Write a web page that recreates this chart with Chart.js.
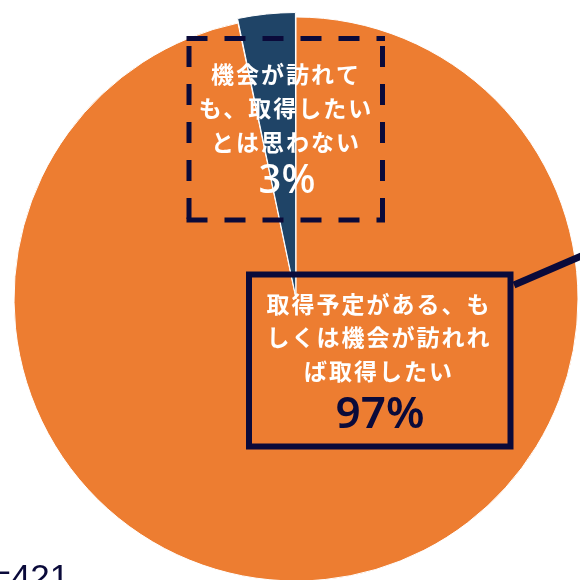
<!DOCTYPE html>
<html><head><meta charset="utf-8">
<script src="https://cdn.jsdelivr.net/npm/chart.js@4/dist/chart.umd.min.js"></script>
<style>
html,body{margin:0;padding:0;background:#fff;overflow:hidden;width:580px;height:580px}
#wrap{position:absolute;left:0;top:0;width:600px;height:600px}
</style></head>
<body>
<div id="wrap"><canvas id="c" width="600" height="600"></canvas></div>
<script>
const categories = ['取得予定がある、もしくは機会が訪れれば取得したい', '機会が訪れても、取得したいとは思わない'];
const values = [96.7, 3.3];
const percentLabels = ['97%', '3%'];
const labelLines = [
  ['取得予定がある、も', 'しくは機会が訪れれ', 'ば取得したい'],
  ['機会が訪れて', 'も、取得したい', 'とは思わない']
];
const sampleNote = 'n=421';

const ORANGE = '#ED7D31', BLUE = '#1F4467', NAVY = '#0A0A3A';
const JP = '"Noto Sans CJK JP", "Noto Sans", sans-serif';

function dashedSide(ctx, x1, y1, x2, y2, off) {
  ctx.lineDashOffset = off;
  ctx.beginPath(); ctx.moveTo(x1, y1); ctx.lineTo(x2, y2); ctx.stroke();
}

const labelPlugin = {
  id: 'labels',
  afterDraw(chart) {
    const ctx = chart.ctx;
    ctx.save();
    // leader line
    ctx.strokeStyle = NAVY; ctx.lineWidth = 7; ctx.lineCap = 'butt';
    ctx.beginPath(); ctx.moveTo(514, 285); ctx.lineTo(600, 248); ctx.stroke();
    // main box
    ctx.lineWidth = 6;
    ctx.strokeRect(249, 274.5, 261.5, 172);
    // dashed box
    ctx.lineWidth = 5; ctx.setLineDash([21, 17]);
    const L = 189, T = 38.5, R = 382.5, B = 220;
    dashedSide(ctx, L - 2.5, T, R + 2.5, T, 0);
    dashedSide(ctx, R, T - 2.5, R, B + 2.5, 28);
    dashedSide(ctx, L - 2.5, B, R + 2.5, B, 0);
    dashedSide(ctx, L, T - 2.5, L, B + 2.5, 28);
    ctx.setLineDash([]);
    ctx.textAlign = 'center'; ctx.textBaseline = 'middle';
    if ('letterSpacing' in ctx) ctx.letterSpacing = '2px';
    ctx.fillStyle = '#fff';
    ctx.font = 'bold 23px ' + JP;
    labelLines[0].forEach((t, i) => ctx.fillText(t, 379, 304 + i * 33.5));
    labelLines[1].forEach((t, i) => ctx.fillText(t, 286, 74 + i * 34));
    if ('letterSpacing' in ctx) ctx.letterSpacing = '0px';
    ctx.font = '500 40px "Noto Sans", sans-serif';
    ctx.fillText(percentLabels[1], 287, 182);
    ctx.fillStyle = NAVY;
    ctx.font = '600 44px "Noto Sans", sans-serif';
    ctx.fillText(percentLabels[0], 380, 415);
    // sample size note
    ctx.textAlign = 'left'; ctx.textBaseline = 'alphabetic';
    ctx.font = '35px "Liberation Sans", sans-serif';
    ctx.fillText(sampleNote, -29, 589);
    ctx.restore();
  }
};

new Chart(document.getElementById('c'), {
  type: 'pie',
  data: {
    labels: categories,
    datasets: [{
      data: values,
      backgroundColor: [ORANGE, BLUE],
      borderColor: '#ffffff',
      borderWidth: 1,
      offset: [0, 10],
      hoverOffset: 0
    }]
  },
  options: {
    responsive: false,
    animation: false,
    events: [],
    layout: { padding: { left: 8.5, top: 11.5, right: 16.5, bottom: 13.5 } },
    plugins: { legend: { display: false }, tooltip: { enabled: false } }
  },
  plugins: [labelPlugin]
});
</script>
</body></html>
